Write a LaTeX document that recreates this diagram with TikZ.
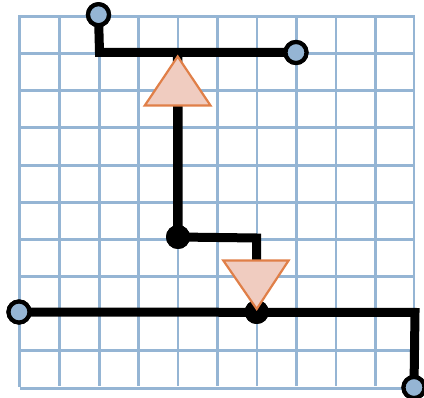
\documentclass[tikz,border=0pt]{standalone}
\definecolor{gridblue}{RGB}{149,181,212}
\definecolor{triorange}{RGB}{224,127,72}
\definecolor{trifill}{RGB}{240,204,192}
\tikzset{
  x=1pt,y=-1pt,
  gridline/.style={draw=gridblue,line width=2.8pt},
  wire/.style={draw=black,line width=9pt,line join=miter},
  thickwire/.style={draw=black,line width=9.5pt},
  terminal/.style={circle,draw=black,fill=gridblue,line width=4.2pt,minimum size=21pt,inner sep=0pt},
  junction/.style={circle,fill=black,draw=none,minimum size=24pt,inner sep=0pt},
  tri/.style={draw=triorange,fill=trifill,line width=2.2pt,line join=miter}
}
\begin{document}
\begin{tikzpicture}
\useasboundingbox (0,0) rectangle (424,398);
% grid
\foreach \xx in {59.5,99.5,138.5,178,217.5,257,296.5,336,375.5}
  \draw[gridline] (\xx,16.5) -- (\xx,386);
\draw[gridline] (19.5,16.5) -- (19.5,387);
\draw[gridline] (414,16.5) -- (414,387);
\foreach \yy in {16.5,53.5,90.5,127.5,165.5,202.5,239.5,276.5,313.5,350.5}
  \draw[gridline] (18.1,\yy) -- (415.4,\yy);
\draw[gridline] (20,388.5) -- (415.4,388.5);
% anchors
\coordinate (c1) at (99.5,52.5);
\coordinate (c2) at (177.7,52.5);
\coordinate (c3) at (256.7,238);
\coordinate (c4) at (256.7,262);
\coordinate (c5) at (415,312.5);
\node[junction] (j1) at (178,237) {};
\node[junction] (j2) at (256.7,312) {};
\node[terminal] (t1) at (98.5,14.7) {};
\node[terminal] (t2) at (296,52.5) {};
\node[terminal] (t3) at (19,312) {};
\node[terminal] (t4) at (414,387.5) {};
% wires
\draw[wire] (t1.center) -- (c1) -- (t2.center);
\draw[thickwire] (c2) -- (j1.center);
\draw[wire] (j1.center) -- (c3) -- (c4);
\draw[wire] (t3.center) -- (c5) -- (t4.center);
% junctions above wires
\node[junction] at (j1.center) {};
\node[junction] at (j2.center) {};
% triangles
\draw[tri] (177.7,56.5) -- (210.5,105.5) -- (144.8,105.5) -- cycle;
\draw[tri] (223.3,260.5) -- (288.6,260.5) -- (256.7,309) -- cycle;
% terminals above wires
\node[terminal] at (t1.center) {};
\node[terminal] at (t2.center) {};
\node[terminal] at (t3.center) {};
\node[terminal] at (t4.center) {};
\end{tikzpicture}
\end{document}
